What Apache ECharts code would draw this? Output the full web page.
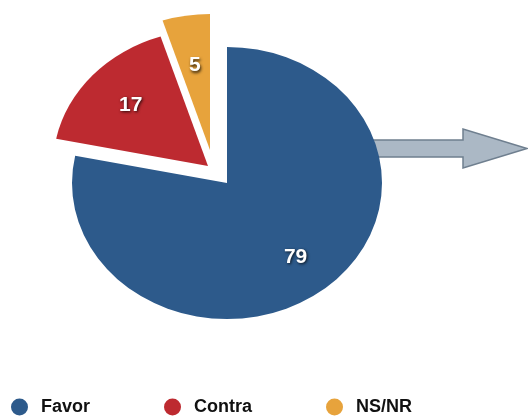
<!DOCTYPE html>
<html>
<head>
<meta charset="utf-8">
<script src="https://cdn.jsdelivr.net/npm/echarts@6/dist/echarts.min.js"></script>
<style>html,body{margin:0;padding:0;background:#fff}#c{width:528px;height:416px}</style>
</head>
<body>
<div id="c"></div>
<script>
const categories = ['Favor', 'Contra', 'NS/NR'];
const values = [79, 17, 5];

const colors = ['#2D5A8B', '#BD2A30', '#E7A33C'];
const CX = 227, CY = 183, RY = 136, SX = 155 / 136;
const offsets = [[0, 0], [-19, -17], [-17, -33]];
const labelFrac = [0.7, 0.67, 0.63];
const FONT = '"Liberation Sans", Arial, Helvetica, sans-serif';

const total = values.reduce((a, b) => a + b, 0);
const starts = [];
let acc = 0;
values.forEach(v => { starts.push(acc); acc += v; });

function renderSlice(idx) {
  return function (params, api) {
    const v = api.value(0);
    const a0 = -Math.PI / 2 + starts[idx] / total * Math.PI * 2;
    const a1 = a0 + v / total * Math.PI * 2;
    const mid = (a0 + a1) / 2;
    const ox = CX + offsets[idx][0], oy = CY + offsets[idx][1];
    const lx = ox + Math.cos(mid) * RY * SX * labelFrac[idx];
    const ly = oy + Math.sin(mid) * RY * labelFrac[idx];
    return {
      type: 'group',
      children: [
        {
          type: 'sector',
          x: ox, y: oy, scaleX: SX, scaleY: 1,
          shape: { cx: 0, cy: 0, r0: 0, r: RY, startAngle: a0, endAngle: a1, clockwise: true },
          style: { fill: colors[idx] }
        },
        {
          type: 'text',
          x: lx, y: ly,
          z2: 10,
          style: {
            text: String(v),
            fill: '#ffffff',
            font: 'bold 21px ' + FONT,
            align: 'center',
            verticalAlign: 'middle',
            textShadowColor: 'rgba(0,0,0,0.8)',
            textShadowBlur: 3,
            textShadowOffsetX: 1,
            textShadowOffsetY: 1.5
          }
        }
      ]
    };
  };
}

const chart = echarts.init(document.getElementById('c'), null, { renderer: 'canvas' });
chart.setOption({
  backgroundColor: '#ffffff',
  animation: false,
  legend: {
    data: categories,
    icon: 'circle',
    left: 11,
    top: 398,
    padding: 0,
    itemWidth: 17,
    itemHeight: 17,
    itemGap: 74,
    itemStyle: { borderWidth: 0 },
    textStyle: { fontFamily: FONT, fontWeight: 'bold', fontSize: 18, color: '#111', padding: [0, 0, 0, 8] }
  },
  graphic: [
    {
      type: 'polygon',
      z: 0,
      shape: { points: [[370, 140], [463, 140], [463, 129], [527, 148.5], [463, 168], [463, 157], [370, 157]] },
      style: { fill: '#ABB8C5', stroke: '#6F7F8F', lineWidth: 1.5 }
    }
  ],
  series: categories.map((name, i) => ({
    type: 'custom',
    name: name,
    coordinateSystem: 'none',
    z: 5,
    itemStyle: { color: colors[i] },
    data: [[values[i]]],
    renderItem: renderSlice(i)
  }))
});
</script>
</body>
</html>
